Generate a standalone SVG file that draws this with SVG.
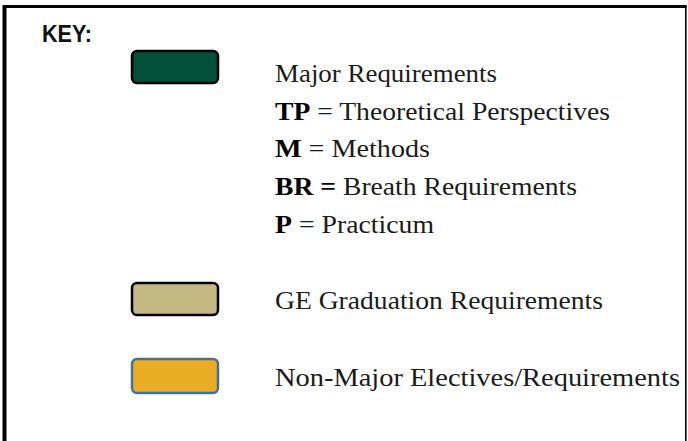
<svg xmlns="http://www.w3.org/2000/svg" width="688" height="441" viewBox="0 0 688 441">
<style>
.lbl{font-family:"Liberation Serif","Times New Roman",serif;font-size:25.5px;fill:#1a1a1a}
.b{font-weight:bold;fill:#000}
.key{font-family:"Liberation Sans",Arial,sans-serif;font-size:23px;font-weight:bold;fill:#111}
.sw{stroke-width:2.5}
</style>
<rect width="688" height="441" fill="#ffffff"/>
<g id="frame" fill="none" stroke="#000">
<line x1="4.5" y1="5" x2="4.5" y2="441" stroke-width="4"/>
<line x1="3" y1="6.5" x2="686.5" y2="6.5" stroke-width="3"/>
<line x1="685.8" y1="5" x2="685.8" y2="441" stroke-width="1.6"/>
</g>
<g id="key-title"><text class="key" x="42" y="42.3" textLength="50" lengthAdjust="spacingAndGlyphs">KEY:</text></g>
<g id="major">
<rect class="sw" x="132" y="51" width="86" height="32" rx="5" fill="#02503A" stroke="#000"/>
<text class="lbl" x="275" y="82" textLength="222" lengthAdjust="spacingAndGlyphs">Major Requirements</text>
<text class="lbl" x="275" y="119.5" textLength="335" lengthAdjust="spacingAndGlyphs"><tspan class="b">TP</tspan> = Theoretical Perspectives</text>
<text class="lbl" x="275" y="157" textLength="155" lengthAdjust="spacingAndGlyphs"><tspan class="b">M</tspan> = Methods</text>
<text class="lbl" x="275" y="195" textLength="302" lengthAdjust="spacingAndGlyphs"><tspan class="b">BR =</tspan> Breath Requirements</text>
<text class="lbl" x="275" y="233.3" textLength="159" lengthAdjust="spacingAndGlyphs"><tspan class="b">P</tspan> = Practicum</text>
</g>
<g id="ge">
<rect class="sw" x="132" y="283" width="86" height="32" rx="5" fill="#C4B883" stroke="#000"/>
<text class="lbl" x="275" y="309.3" textLength="328" lengthAdjust="spacingAndGlyphs">GE Graduation Requirements</text>
</g>
<g id="nonmajor">
<rect class="sw" x="132" y="359" width="86" height="34" rx="5" fill="#E9AC24" stroke="#41719C"/>
<text class="lbl" x="275" y="385.5" textLength="405" lengthAdjust="spacingAndGlyphs">Non-Major Electives/Requirements</text>
</g>
<g id="connectors"/>
</svg>
